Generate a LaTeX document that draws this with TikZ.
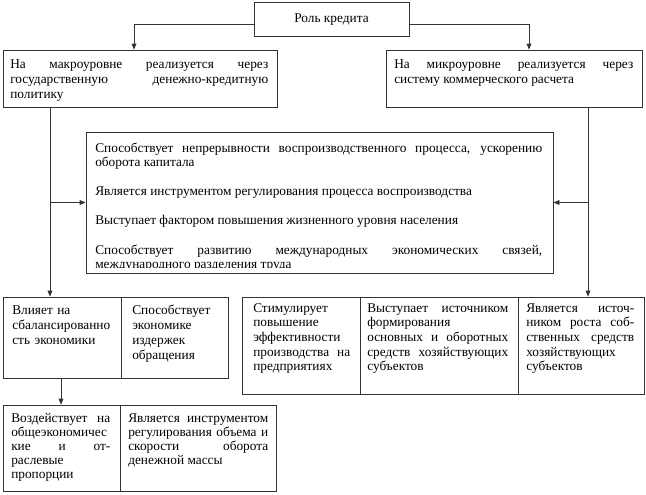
\documentclass[tikz,border=0pt]{standalone}
\usepackage{fontspec}
\setmainfont{Liberation Serif}
\usetikzlibrary{arrows.meta,fit}

\begin{document}
\begin{tikzpicture}[x=0.75pt, y=-0.75pt, >={Triangle[length=4.5pt,width=3.6pt]},
  font=\fontsize{10}{11.25}\selectfont,
  blk/.style={draw=black!80, line width=0.6pt, inner sep=0pt},
  txt/.style={inner sep=0pt, anchor=base west, align=justify},
  conn/.style={draw=black!80, line width=0.6pt, ->}]
  \useasboundingbox (0,0) rectangle (646,494);

  % boxes
  \node[blk, fit={(254,2) (409,36)}] (role) {};
  \node[blk, fit={(3,50) (277,107)}] (macro) {};
  \node[blk, fit={(386,50) (642,107)}] (micro) {};
  \node[blk, fit={(86,132) (553,273)}] (mid) {};
  \node[blk, fit={(3,297) (121,378)}] (vl1) {};
  \node[blk, fit={(121,297) (228,378)}] (vl2) {};
  \node[blk, fit={(242,297) (360,394)}] (st1) {};
  \node[blk, fit={(360,297) (518,394)}] (st2) {};
  \node[blk, fit={(518,297) (644,394)}] (st3) {};
  \node[blk, fit={(3,405) (120,491)}] (vz1) {};
  \node[blk, fit={(120,405) (276,491)}] (vz2) {};

  % texts
  \node (roletxt) at (331.5,20) {Роль кредита};
  \node[txt, text width=193.5pt, font=\fontsize{10}{11.6}\selectfont] (macrotxt) at (10,68)
    {На макроуровне реализуется через\linebreak
     государственную \mbox{денежно-кредитную}\linebreak политику};
  \node[txt, text width=179.25pt, font=\fontsize{10}{11.6}\selectfont] (microtxt) at (394,68)
    {На микроуровне реализуется через\linebreak систему коммерческого расчета};
  \begin{scope}
    \clip (86,132) rectangle (553,267);
    \node[txt, text width=335.25pt, font=\fontsize{10}{10.5}\selectfont] (midtxt) at (95,152)
      {Способствует непрерывности воспроизводственного процесса, ускорению\linebreak
       оборота капитала\\[11.5pt]
       Является инструментом регулирования процесса воспроизводства\\[11.5pt]
       Выступает фактором повышения жизненного уровня населения\\[11.5pt]
       Способствует развитию международных экономических связей,\linebreak
       международного разделения труда};
  \end{scope}
  \node[txt, text width=75pt, align=left] (vl1txt) at (12,314)
    {Влияет на\\ сбалансированно\\ сть экономики};
  \node[txt, text width=69pt, align=left] (vl2txt) at (132,314)
    {Способствует\\ экономике\\ издержек\\ обращения};
  \node[txt, text width=72.75pt, font=\fontsize{10}{11}\selectfont] (st1txt) at (253,312)
    {Стимулирует\\ повышение\\ эффективности\\ производства на\linebreak предприятиях};
  \node[txt, text width=105.75pt, font=\fontsize{10}{11}\selectfont] (st2txt) at (367,312)
    {Выступает источником\linebreak формирования\\ основных и оборотных\linebreak
     средств хозяйствующих\linebreak субъектов};
  \node[txt, text width=81pt, font=\fontsize{10}{11}\selectfont] (st3txt) at (526,312)
    {Является источ-\linebreak ником роста соб-\linebreak ственных средств\linebreak
     хозяйствующих\\ субъектов};
  \node[txt, text width=74.25pt, font=\fontsize{10}{10.5}\selectfont] (vz1txt) at (11,422)
    {Воздействует на\linebreak общеэкономичес\\ кие и от-\linebreak раслевые\\ пропорции};
  \node[txt, text width=105pt, font=\fontsize{10}{10.5}\selectfont] (vz2txt) at (128,422)
    {Является инструментом\linebreak регулирования объема и\linebreak
     скорости оборота\linebreak денежной массы};

  % connectors
  \coordinate (hy) at (0,24);
  \coordinate (ml) at (134,0);
  \coordinate (mr) at (529,0);
  \coordinate (lt) at (50,0);
  \coordinate (rt) at (588,0);
  \coordinate (bt) at (61,0);
  \draw[conn] (role.west |- hy) -| (macro.north -| ml);
  \draw[conn] (role.east |- hy) -| (micro.north -| mr);
  \draw[conn] (macro.south -| lt) -- (vl1.north -| lt);
  \draw[conn] (micro.south -| rt) -- (st3.north -| rt);
  \draw[conn] (mid.west -| lt) -- (mid.west);
  \draw[conn] (mid.east -| rt) -- (mid.east);
  \draw[conn] (vl1.south -| bt) -- (vz1.north -| bt);
\end{tikzpicture}
\end{document}
